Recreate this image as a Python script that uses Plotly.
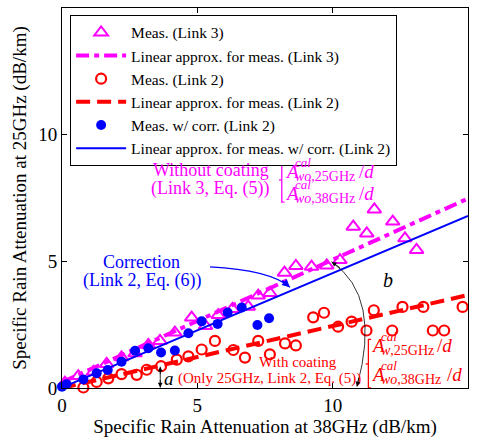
import plotly.graph_objects as go

# Specific rain attenuation, 38 GHz (x) vs 25 GHz (y), dB/km
link3_x = [0.11, 0.6, 1.16, 1.65, 2.2, 2.7, 3.19, 3.62, 4.17, 4.79, 5.3, 5.77, 6.3, 6.88,
           7.25, 7.68, 8.22, 8.64, 9.22, 9.78, 10.27, 10.76, 11.26, 11.54, 12.22, 12.67, 13.1]
link3_y = [0.21, 0.47, 0.64, 0.95, 1.21, 1.37, 1.70, 1.86, 2.19, 2.78, 2.45, 2.88, 3.12, 3.21,
           3.65, 3.75, 4.55, 4.82, 4.79, 4.84, 5.05, 6.37, 6.10, 7.05, 6.57, 5.91, 5.45]

link2_x = [0.79, 1.28, 1.71, 2.2, 2.76, 3.13, 3.66, 4.24, 4.67, 5.16, 5.65, 6.33, 6.76, 7.25,
           7.68, 8.24, 8.64, 9.28, 9.68, 10.2, 10.7, 11.25, 11.52, 12.2, 12.58, 13.35, 13.7,
           14.12, 14.8]
link2_y = [0.02, 0.24, 0.38, 0.55, 0.52, 0.72, 0.86, 1.12, 1.25, 1.52, 1.86, 1.5, 1.2, 1.86,
           1.33, 1.76, 1.68, 2.79, 2.97, 2.42, 2.62, 2.27, 3.07, 2.27, 3.2, 3.2, 2.27, 2.27, 3.2]

corr_x = [0.0, 0.17, 0.79, 1.28, 1.69, 2.2, 2.7, 3.19, 3.66, 4.17, 4.67, 5.16, 5.75, 6.12,
          6.64, 7.22, 7.65]
corr_y = [0.05, 0.15, 0.34, 0.58, 0.71, 1.04, 1.47, 1.57, 1.40, 1.48, 2.16, 2.63, 2.53, 2.98,
          3.18, 2.49, 2.75]

# Linear approximations, evaluated at both ends of the x range
fit_x = [0, 15]
link3_fit = [0.23, 7.48]
link2_fit = [0.0, 3.67]
corr_fit = [0.02, 6.79]

tick_vals = [0, 5, 10, 15]

MAGENTA = "#FF00FF"
RED = "#FF0000"
BLUE = "#0000FF"
SERIF = "Liberation Serif"

fig = go.Figure()
fig.add_trace(go.Scatter(x=link3_x, y=link3_y, mode="markers", name="Meas. (Link 3)",
                         marker=dict(symbol="triangle-up-open", size=12, color=MAGENTA,
                                     line=dict(width=2, color=MAGENTA)),
                         cliponaxis=False))
fig.add_trace(go.Scatter(x=fit_x, y=link3_fit, mode="lines",
                         name="Linear approx. for meas. (Link 3)",
                         line=dict(color=MAGENTA, width=4, dash="13px,5px,5px,5px")))
fig.add_trace(go.Scatter(x=link2_x, y=link2_y, mode="markers", name="Meas. (Link 2)",
                         marker=dict(symbol="circle-open", size=10, color=RED,
                                     line=dict(width=2.2, color=RED)),
                         cliponaxis=False))
fig.add_trace(go.Scatter(x=fit_x, y=link2_fit, mode="lines",
                         name="Linear approx. for meas. (Link 2)",
                         line=dict(color=RED, width=4, dash="14px,7px")))
fig.add_trace(go.Scatter(x=corr_x, y=corr_y, mode="markers", name="Meas. w/ corr. (Link 2)",
                         marker=dict(symbol="circle", size=10, color=BLUE),
                         cliponaxis=False))
fig.add_trace(go.Scatter(x=fit_x, y=corr_fit, mode="lines",
                         name="Linear approx. for meas. w/ corr. (Link 2)",
                         line=dict(color=BLUE, width=2)))

ann = []
shapes = []


def text(x, y, s, color, size, xanchor="center", italic=False, xshift=0, yshift=0):
    if italic:
        s = "<i>" + s + "</i>"
    ann.append(dict(x=x, y=y, xref="x", yref="y", text=s, showarrow=False,
                    font=dict(family=SERIF, size=size, color=color),
                    xanchor=xanchor, yanchor="middle", xshift=xshift, yshift=yshift,
                    borderpad=0))


def calib_term(x, y, sub_it, sub_rm, slash_shift, color):
    # A^{cal}_{sub}/d laid out from separate pieces
    text(x, y, "A", color, 19, "left", italic=True)
    text(x, y, "cal", color, 13, "left", italic=True, xshift=10, yshift=9)
    text(x, y, "<i>" + sub_it + "</i>" + sub_rm, color, 14, "left", xshift=10, yshift=-5)
    text(x, y, "/<i>d</i>", color, 19, "left", xshift=slash_shift)


def bracket(x, y0, y1, ym, color):
    shapes.append(dict(type="path", xref="x", yref="y",
                       path=f"M {x+0.1},{y1} L {x},{y1} L {x},{y0} L {x+0.1},{y0}",
                       line=dict(color=color, width=1.3)))
    shapes.append(dict(type="line", xref="x", yref="y", x0=x - 0.1, x1=x, y0=ym, y1=ym,
                       line=dict(color=color, width=1.3)))


def arrowhead(x, y, ax, ay, color, width=1):
    ann.append(dict(x=x, y=y, xref="x", yref="y", ax=ax, ay=ay, text="", showarrow=True,
                    arrowhead=2, arrowsize=1.2, arrowwidth=width, arrowcolor=color,
                    standoff=0))


# Without coating (Link 3)
text(5.52, 8.62, "Without coating", MAGENTA, 18)
text(5.48, 7.86, "(Link 3, Eq. (5))", MAGENTA, 18)
bracket(8.12, 7.34, 9.08, 8.21, MAGENTA)
calib_term(8.2, 8.55, "wo", ",25GHz", 74, MAGENTA)
calib_term(8.2, 7.68, "wo", ",38GHz", 74, MAGENTA)

# With coating (Link 2)
text(8.72, 1.03, "With coating", RED, 15)
text(7.67, 0.39, "(Only 25GHz, Link 2, Eq. (5))", RED, 15)
bracket(11.32, 0.0, 1.92, 0.95, RED)
calib_term(11.38, 1.66, "w", ",25GHz", 66, RED)
calib_term(11.38, 0.52, "wo", ",38GHz", 76, RED)

# Correction (Link 2)
text(2.95, 4.98, "Correction", BLUE, 18)
text(2.95, 4.24, "(Link 2, Eq. (6))", BLUE, 18)
shapes.append(dict(type="path", xref="x", yref="y",
                   path="M 5.47,4.78 Q 7.68,4.66 8.42,3.98",
                   line=dict(color=BLUE, width=1.3)))
arrowhead(8.42, 3.98, -9, -8, BLUE, 1.3)

# Angle b
text(12.04, 4.26, "b", "black", 20, italic=True)
shapes.append(dict(type="path", xref="x", yref="y",
                   path="M 9.96,4.98 Q 11.81,3.63 10.9,0.06",
                   line=dict(color="black", width=0.8)))
arrowhead(9.96, 4.98, 10, 7, "black", 0.8)
arrowhead(10.9, 0.06, 2, -10, "black", 0.8)

# Offset a
text(3.95, 0.39, "a", "black", 19, italic=True)
shapes.append(dict(type="line", xref="x", yref="y", x0=3.63, x1=3.63, y0=0.02, y1=0.84,
                   line=dict(color="black", width=0.8)))
arrowhead(3.63, 0.84, 0, 9, "black", 0.8)
arrowhead(3.63, 0.02, 0, -9, "black", 0.8)

axis_common = dict(range=[0, 15], tickvals=tick_vals, showgrid=False, zeroline=False,
                   showline=True, linecolor="black", linewidth=1, mirror="ticks",
                   ticks="inside", ticklen=5, tickcolor="black",
                   tickfont=dict(family=SERIF, size=19, color="black"))

fig.update_layout(
    width=477, height=441,
    margin=dict(l=62, r=9, t=8, b=53),
    paper_bgcolor="white", plot_bgcolor="white",
    font=dict(family=SERIF, color="black"),
    xaxis=dict(title=dict(text="Specific Rain Attenuation at 38GHz (dB/km)",
                          font=dict(family=SERIF, size=19, color="black"), standoff=4),
               **axis_common),
    yaxis=dict(title=dict(text="Specific Rain Attenuation at 25GHz (dB/km)",
                          font=dict(family=SERIF, size=19, color="black"), standoff=6),
               **axis_common),
    legend=dict(x=0.02, y=0.982, xanchor="left", yanchor="top",
                bgcolor="white", bordercolor="black", borderwidth=1,
                font=dict(family=SERIF, size=15.5, color="black"),
                itemwidth=50, tracegroupgap=0),
    annotations=ann,
    shapes=shapes,
    showlegend=True,
)

fig.write_html("out.html")
